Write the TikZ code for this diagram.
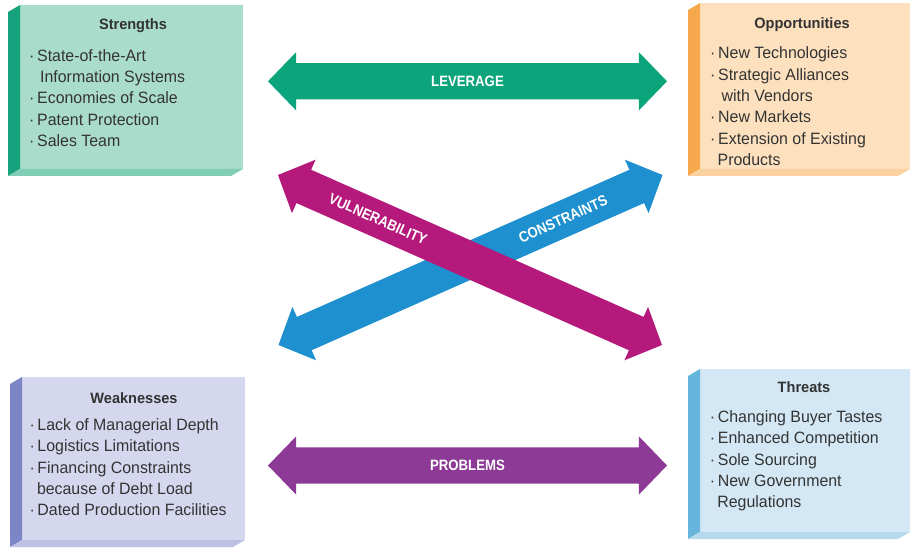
\documentclass[tikz,border=0pt]{standalone}
\usepackage{fontspec}
\setmainfont{Liberation Sans}[FakeStretch=0.97]
\newfontfamily\arrowfont{Liberation Sans}[FakeStretch=0.88]
\usetikzlibrary{shapes.arrows,calc}

% panel colours: front face and extruded side
\definecolor{strFace}{HTML}{A9DCCA}
\definecolor{strSide}{HTML}{16A27C}
\definecolor{oppFace}{HTML}{FDE1BF}
\definecolor{oppSide}{HTML}{F6A84C}
\definecolor{weaFace}{HTML}{D5D7EE}
\definecolor{weaSide}{HTML}{7C86C6}
\definecolor{thrFace}{HTML}{D3E8F4}
\definecolor{thrSide}{HTML}{66B5DD}
% arrow colours
\definecolor{levCol}{HTML}{0CA47A}
\definecolor{proCol}{HTML}{8C3A96}
\definecolor{vulCol}{HTML}{B4197B}
\definecolor{conCol}{HTML}{1E8FCF}
\definecolor{ink}{HTML}{333333}

\newcommand{\bul}{\makebox[8pt][l]{·}}
\newcommand{\firstline}{\rule{0pt}{12pt}}

% a 3-D panel: name, left, top, width, height, face colour, side colour
\newcommand{\swotpanel}[7]{%
  \node[panel, fill=#6, minimum width=#4pt, minimum height=#5pt] (#1) at (#2,#3) {};
  \fill[#7] (#1.north west) -- ++(-12,7) -- ([shift={(-12,7)}]#1.south west)
        -- (#1.south west) -- cycle;
  \fill[#6!72!#7] (#1.south west) -- ++(-12,7) -- ([shift={(-12,7)}]#1.south east)
        -- (#1.south east) -- cycle;
}

\begin{document}
\begin{tikzpicture}[x=1pt,y=-1pt,
  panel/.style={anchor=north west, inner sep=0pt, outer sep=0pt, draw=none},
  title/.style={anchor=base, inner sep=0pt, text=ink,
    font=\bfseries\fontsize{15}{18}\selectfont},
  body/.style={anchor=north west, inner sep=0pt, align=left, text=ink,
    font=\fontsize{16.4}{21.4}\selectfont},
  dblarrow/.style={shape=double arrow, draw=none, inner xsep=0pt,
    inner ysep=18pt, minimum width=58pt, double arrow head extend=11pt,
    double arrow tip angle=92},
  lbl/.style={inner sep=0pt, text=white,
    font=\arrowfont\bfseries\fontsize{15}{17}\selectfont}
]
\useasboundingbox[fill=white] (0,0) rectangle (913,548);

% ---- panels ----
\swotpanel{S}{20}{5}{223}{164}{strFace}{strSide}
\swotpanel{O}{700}{3}{210}{166}{oppFace}{oppSide}
\swotpanel{W}{22}{377}{223}{163}{weaFace}{weaSide}
\swotpanel{T}{700}{369}{210}{163}{thrFace}{thrSide}

% ---- panel texts ----
\node[title] (sTitle) at (133,30) {Strengths};
\node[body] (sBody) at (29,49) {\firstline\bul State-of-the-Art\\
  \hspace*{11pt}Information Systems\\
  \bul Economies of Scale\\
  \bul Patent Protection\\
  \bul Sales Team};

\node[title] (oTitle) at (802,29) {Opportunities};
\node[body] (oBody) at (710,46.5) {\firstline\bul New Technologies\\
  \bul Strategic Alliances\\
  \hspace*{11.5pt}with Vendors\\
  \bul New Markets\\
  \bul Extension of Existing\\
  \hspace*{7.5pt}Products};

\node[title] (wTitle) at (134,403) {Weaknesses};
\node[body] (wBody) at (29.3,418) {\firstline\bul Lack of Managerial Depth\\
  \bul Logistics Limitations\\
  \bul Financing Constraints\\
  \hspace*{7.5pt}because of Debt Load\\
  \bul Dated Production Facilities};

\node[title] (tTitle) at (804,392) {Threats};
\node[body] (tBody) at (709.7,410) {\firstline\bul Changing Buyer Tastes\\
  \bul Enhanced Competition\\
  \bul Sole Sourcing\\
  \bul New Government\\
  \hspace*{7.5pt}Regulations};

% ---- arrows ----
\node[dblarrow, fill=levCol, minimum height=399pt] (lev) at (467.5,81.3) {};
\node[dblarrow, fill=proCol, minimum height=399pt] (pro) at (467.5,465.5) {};
\node[dblarrow, fill=conCol, minimum height=420pt, rotate=23.88] (con) at (470.5,260) {};
\node[dblarrow, fill=vulCol, minimum height=420pt, rotate=-23.88] (vul) at (470,260) {};

\node[lbl] (levText) at (lev.center) {LEVERAGE};
\node[lbl] (proText) at (pro.center) {PROBLEMS};
\node[lbl, rotate=-23.88] (vulText) at (378,219.3) {VULNERABILITY};
\node[lbl, rotate=23.88] (conText) at (563,219) {CONSTRAINTS};
\end{tikzpicture}
\end{document}
